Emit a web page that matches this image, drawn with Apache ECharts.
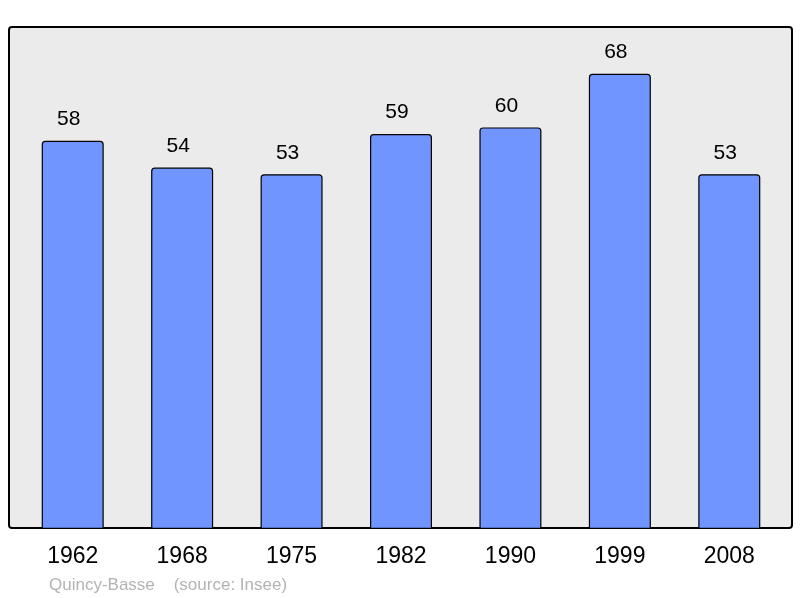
<!DOCTYPE html>
<html><head><meta charset="utf-8">
<script src="https://cdn.jsdelivr.net/npm/echarts@6/dist/echarts.min.js"></script>
<style>html,body{margin:0;padding:0;background:#fff}#c{width:800px;height:598px}</style>
</head><body><div id="c"></div>
<script>
const years = ['1962','1968','1975','1982','1990','1999','2008'];
const population = [58, 54, 53, 59, 60, 68, 53];
const footerText = 'Quincy-Basse    (source: Insee)';

const chart = echarts.init(document.getElementById('c'), null, {renderer:'canvas'});
chart.setOption({
  animation: false,
  backgroundColor: '#ffffff',
  graphic: [
    {type:'rect', z:-10, shape:{x:9, y:27, width:783, height:501, r:3},
     style:{fill:'#ebebeb', stroke:'#000', lineWidth:2}},
    {type:'text', left:49, top:577, style:{text:footerText, fill:'#b3b3b3', font:'17px "Liberation Sans", Arial, sans-serif'}}
  ],
  grid: {left:18, right:16, top:27, bottom:69, containLabel:false},
  xAxis: {
    type:'category', data:years,
    axisLine:{show:false}, axisTick:{show:false},
    axisLabel:{color:'#000', fontSize:23, fontFamily:'"Liberation Sans", Arial, sans-serif', margin:16}
  },
  yAxis: {type:'value', min:0, max:75, show:false, splitLine:{show:false}},
  series: [{
    type:'bar', data:population, barWidth:62,
    itemStyle:{color:'#7095ff', borderColor:'#000', borderWidth:1.2, borderRadius:[3,3,0,0]},
    label:{show:true, position:'top', distance:12, offset:[-4,1], color:'#000', fontSize:21, fontFamily:'"Liberation Sans", Arial, sans-serif'}
  }]
});
</script></body></html>
